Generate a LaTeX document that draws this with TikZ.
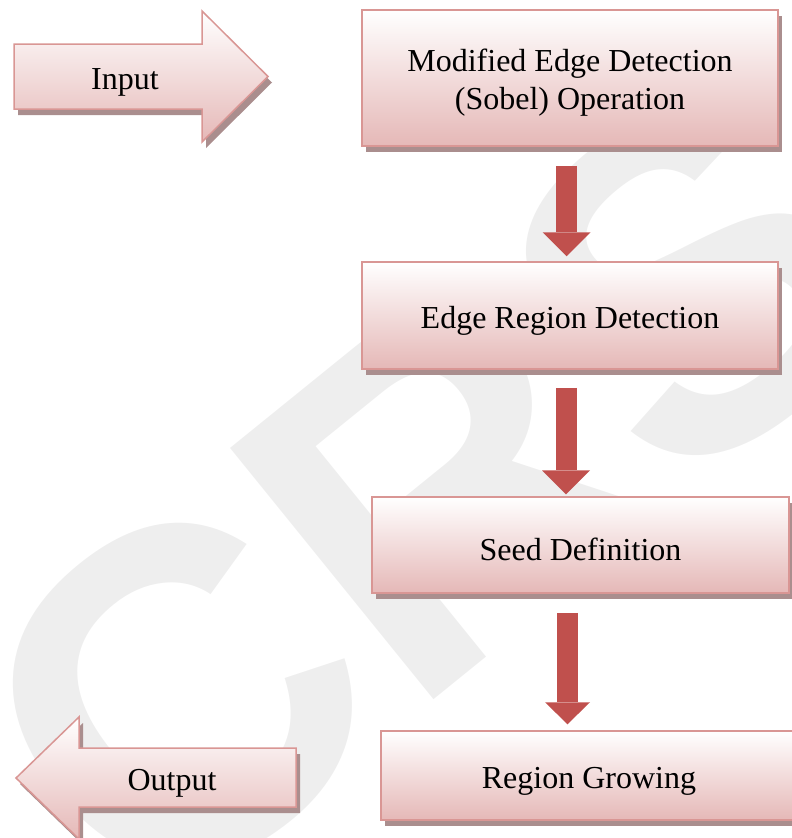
\documentclass[tikz,border=0pt]{standalone}
\usepackage{fontspec}
\setmainfont{Liberation Serif}
\newfontfamily\wmfont{Liberation Sans}
\usetikzlibrary{arrows.meta,positioning,shadows}
\definecolor{rand}{RGB}{217,150,148}
\definecolor{roze}{RGB}{229,184,183}
\definecolor{schaduw}{RGB}{170,142,142}
\definecolor{pijlrood}{RGB}{192,80,77}
\definecolor{watermerk}{RGB}{238,238,238}
\newcommand{\hoog}{\rule{0pt}{32pt}}

\begin{document}
\begin{tikzpicture}[x=1pt,y=1pt]
\tikzstyle{veld} = [draw=rand, line width=1.5pt, top color=white, bottom color=roze, minimum width=416pt, align=center, font=\fontsize{32}{38}\selectfont, drop shadow={shadow xshift=4pt, shadow yshift=-6pt, fill=schaduw, opacity=1}]
\tikzstyle{blokpijl} = [draw=rand, line width=1.5pt, top color=white, bottom color=roze, drop shadow={shadow xshift=4pt, shadow yshift=-6pt, fill=schaduw, opacity=1}]
\tikzstyle{tekst} = [font=\fontsize{32}{38}\selectfont]
\tikzstyle{pijl} = [draw=pijlrood, line width=21pt, -{Triangle[width=48pt,length=24pt,line width=0pt]}]

\useasboundingbox (0,0) rectangle (792,-838);

\begin{scope}
\clip (0,0) rectangle (792,-838);
\node [text=watermerk, inner sep=0pt, rotate=39, font=\wmfont\bfseries\fontsize{470}{470}\selectfont] (crs) at (430,-495) {CRS};
\end{scope}

\draw [blokpijl] (14,-44) -- (202,-44) -- (202,-11) -- (268,-76.5) -- (202,-142) -- (202,-109) -- (14,-109) -- cycle;
\node [tekst] (input) at (125,-77) {\hoog Input};

\draw [blokpijl] (16,-778) -- (79,-717) -- (79,-748) -- (296,-748) -- (296,-807) -- (79,-807) -- (79,-839) -- cycle;
\node [tekst] (output) at (172,-778) {\hoog Output};

\node [veld, minimum height=136pt] (sobel) at (570,-78) {\hoog Modified Edge Detection\\(Sobel) Operation};

\node [veld, minimum height=107pt] (erd) [below of=sobel, node distance=237.5pt] {\hoog Edge Region Detection};
\draw [pijl] ([xshift=-3.5pt,yshift=-19pt]sobel.south) -- ([xshift=-3.5pt,yshift=5pt]erd.north);

\node [veld, minimum height=96pt, minimum width=417pt] (seed) [below of=erd, node distance=229.5pt, xshift=10.5pt] {\hoog Seed Definition};
\draw [pijl] ([xshift=-4pt,yshift=-18pt]erd.south) -- ([xshift=-14.5pt,yshift=2pt]seed.north);

\node [veld, minimum height=89pt] (grow) [below of=seed, node distance=230.5pt, xshift=8.5pt] {\hoog Region Growing};
\draw [pijl, -{Triangle[width=45pt,length=22pt,line width=0pt]}] ([xshift=-13pt,yshift=-19pt]seed.south) -- ([xshift=-21.5pt,yshift=6pt]grow.north);

\end{tikzpicture}
\end{document}
